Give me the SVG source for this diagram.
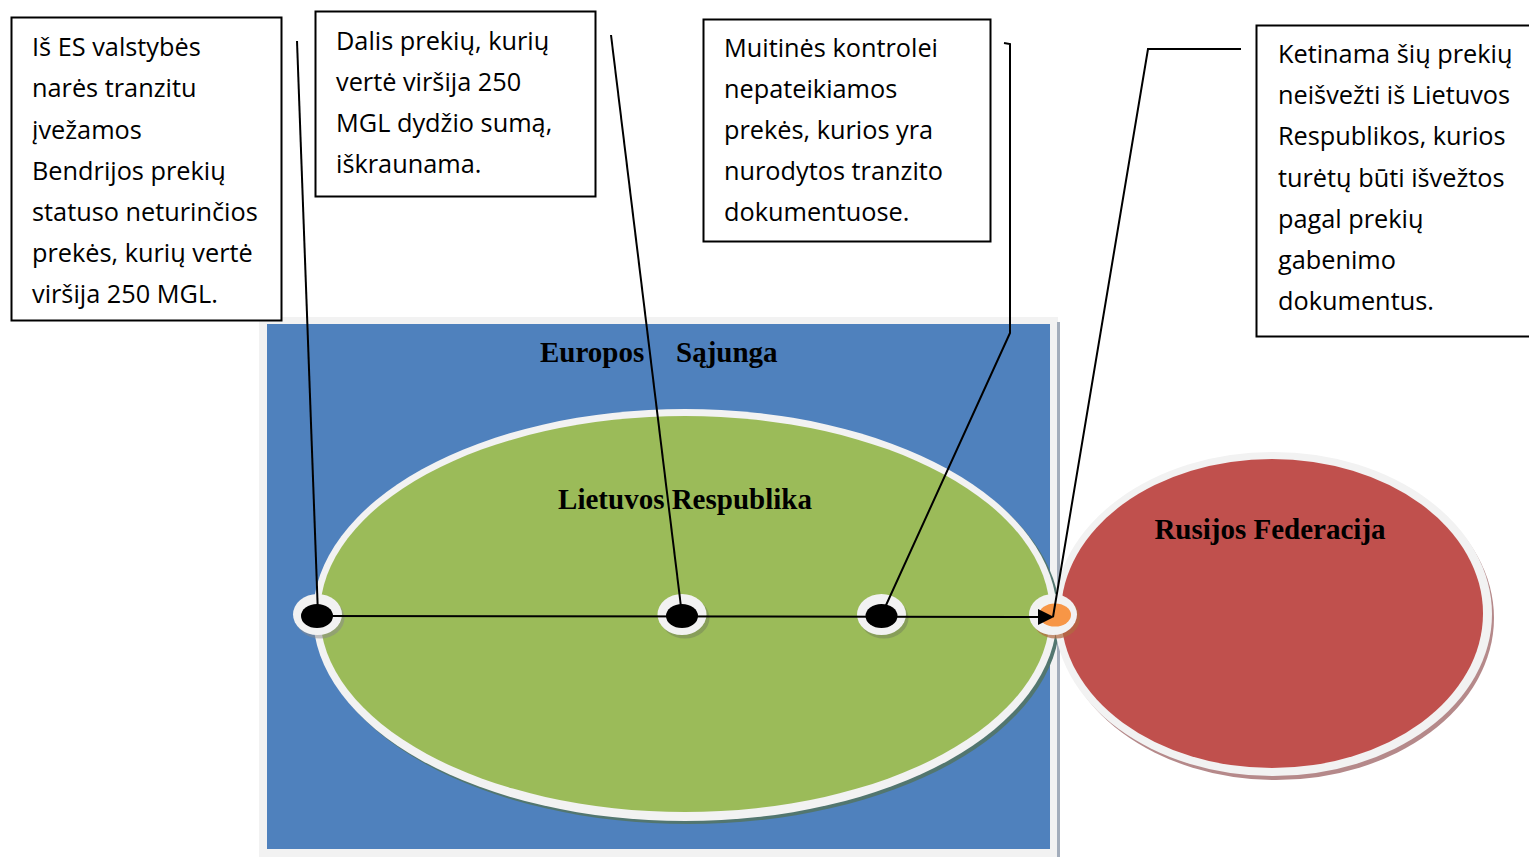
<svg xmlns="http://www.w3.org/2000/svg" width="1529" height="857" viewBox="0 0 1529 857">
<defs>
<style>
.box{fill:#fff;stroke:#000;stroke-width:2}
.bt{font-family:"Open Sans","Liberation Sans",sans-serif;font-size:25.3px;fill:#000}
.lbl{font-family:"Liberation Serif",serif;font-weight:bold;font-size:29px;fill:#000}
.ring{fill:#f2f2f2}
.conn{fill:none;stroke:#000;stroke-width:2}
</style>
</defs>
<rect width="1529" height="857" fill="#fff"/>
<g id="eu">
<rect x="259" y="317" width="799" height="545" fill="#f2f2f2"/>
<rect x="1057" y="322" width="3" height="540" fill="#a3adbb"/>
<rect x="267" y="324" width="783" height="525" fill="#4f81bd"/>
<text class="lbl" x="540" y="362">Europos<tspan x="676">Sąjunga</tspan></text>
</g>
<g id="lt">
<ellipse cx="688" cy="618" rx="372" ry="206" fill="#52766f"/>
<ellipse cx="685" cy="615" rx="372" ry="206" class="ring"/>
<ellipse cx="685" cy="614" rx="365" ry="198" fill="#9bbb59"/>
<text class="lbl" x="685" y="509" text-anchor="middle">Lietuvos Respublika</text>
</g>
<g id="ru">
<ellipse cx="1276" cy="618" rx="218" ry="162" fill="#b5898a"/>
<ellipse cx="1273" cy="614" rx="219" ry="162" class="ring"/>
<ellipse cx="1272" cy="613.5" rx="211" ry="154.5" fill="#c0504d"/>
<text class="lbl" x="1270" y="539" text-anchor="middle">Rusijos Federacija</text>
</g>
<g id="dots">
<ellipse cx="320" cy="618" rx="24.5" ry="20.5" fill="#8a8a8a" opacity="0.5"/>
<ellipse cx="317.5" cy="614.5" rx="24.5" ry="20.5" class="ring"/>
<ellipse cx="317" cy="616" rx="16" ry="12" fill="#000"/>
<ellipse cx="685" cy="618" rx="24.5" ry="20.5" fill="#7a8a5a" opacity="0.6"/>
<ellipse cx="682" cy="614.5" rx="24.5" ry="20.5" class="ring"/>
<ellipse cx="682" cy="616" rx="16" ry="12" fill="#000"/>
<ellipse cx="884" cy="618" rx="24.5" ry="20.5" fill="#7a8a5a" opacity="0.6"/>
<ellipse cx="881.5" cy="614.5" rx="24.5" ry="20.5" class="ring"/>
<ellipse cx="881.5" cy="616" rx="16" ry="12" fill="#000"/>
<ellipse cx="1056" cy="618" rx="24" ry="20.5" fill="#b06a40" opacity="0.7"/>
<ellipse cx="1053" cy="614.5" rx="24" ry="20.5" class="ring"/>
<ellipse cx="1055" cy="615" rx="16" ry="11.5" fill="#f79646"/>
</g>
<g id="box1">
<rect class="box" x="11.5" y="17.5" width="270" height="303"/>
<text class="bt" x="32" y="56">Iš ES valstybės</text>
<text class="bt" x="32" y="97">narės tranzitu</text>
<text class="bt" x="32" y="139">įvežamos</text>
<text class="bt" x="32" y="180">Bendrijos prekių</text>
<text class="bt" x="32" y="221">statuso neturinčios</text>
<text class="bt" x="32" y="262">prekės, kurių vertė</text>
<text class="bt" x="32" y="303">viršija 250 MGL.</text>
</g>
<g id="box2">
<rect class="box" x="315.5" y="11.5" width="280" height="185"/>
<text class="bt" x="336" y="50">Dalis prekių, kurių</text>
<text class="bt" x="336" y="91">vertė viršija 250</text>
<text class="bt" x="336" y="132">MGL dydžio sumą,</text>
<text class="bt" x="336" y="173">iškraunama.</text>
</g>
<g id="box3">
<rect class="box" x="703.5" y="19.5" width="287" height="222"/>
<text class="bt" x="724" y="57">Muitinės kontrolei</text>
<text class="bt" x="724" y="98">nepateikiamos</text>
<text class="bt" x="724" y="139">prekės, kurios yra</text>
<text class="bt" x="724" y="180">nurodytos tranzito</text>
<text class="bt" x="724" y="221">dokumentuose.</text>
</g>
<g id="box4">
<rect class="box" x="1256.5" y="25.5" width="290" height="311"/>
<text class="bt" x="1278" y="63">Ketinama šių prekių</text>
<text class="bt" x="1278" y="104">neišvežti iš Lietuvos</text>
<text class="bt" x="1278" y="145">Respublikos, kurios</text>
<text class="bt" x="1278" y="187">turėtų būti išvežtos</text>
<text class="bt" x="1278" y="228">pagal prekių</text>
<text class="bt" x="1278" y="269">gabenimo</text>
<text class="bt" x="1278" y="310">dokumentus.</text>
</g>
<g id="connectors">
<path class="conn" d="M297,41 L318,615"/>
<path class="conn" d="M611,35 L682,615"/>
<path class="conn" d="M1004,43 L1010,44 L1010,333 L882,614"/>
<path class="conn" d="M1241,49 L1148,49 L1053,617"/>
<path class="conn" d="M318,616 L1042,617" stroke-width="2.5"/>
<path d="M1038,609 L1054,617 L1038,625 Z" fill="#000"/>
</g>
</svg>
